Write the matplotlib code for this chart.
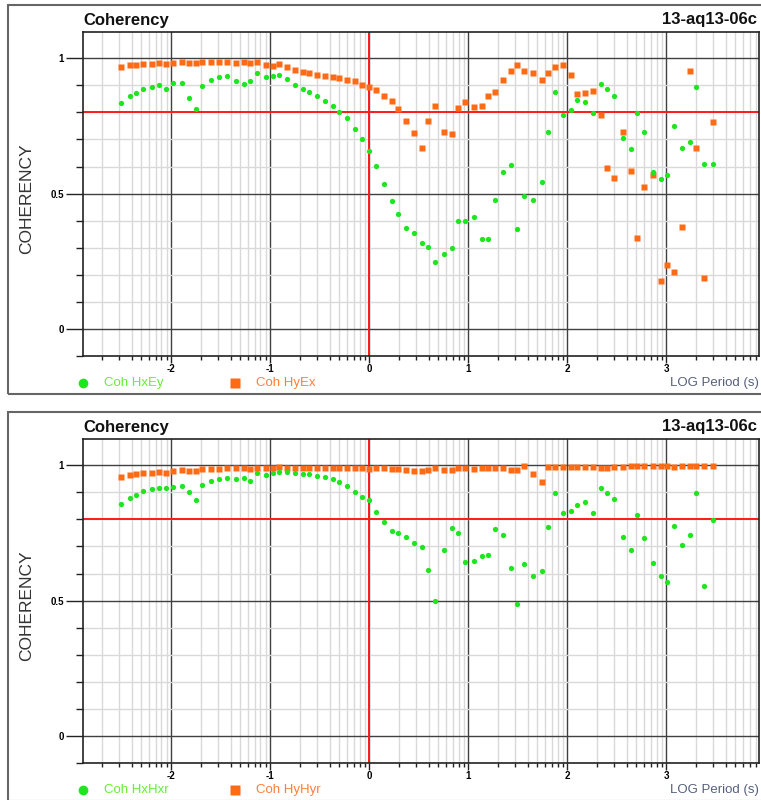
import matplotlib
matplotlib.use('Agg')
import matplotlib.pyplot as plt
import numpy as np
from matplotlib.patches import Rectangle
from matplotlib.lines import Line2D
from matplotlib.ticker import MultipleLocator, FixedLocator

plt.rcParams['font.family'] = ['Liberation Sans', 'DejaVu Sans']

# log10 of period (s), shared by all series
log_period = [
    -2.505, -2.418, -2.354, -2.280, -2.195, -2.118, -2.054, -1.976, -1.892, -1.815,
    -1.747, -1.684, -1.596, -1.515, -1.431, -1.347, -1.266, -1.202, -1.128, -1.044,
    -0.970, -0.906, -0.832, -0.744, -0.667, -0.603, -0.525, -0.444, -0.367, -0.300,
    -0.226, -0.141, -0.067, 0.000, 0.074,
    0.152, 0.232, 0.296, 0.370, 0.455, 0.532, 0.599, 0.670, 0.754, 0.835,
    0.896, 0.970, 1.057, 1.141, 1.202, 1.273, 1.357, 1.431, 1.492, 1.569,
    1.657, 1.741, 1.805, 1.875, 1.956, 2.037, 2.104, 2.178, 2.256, 2.337,
    2.401, 2.471, 2.562, 2.643, 2.704, 2.778, 2.869, 2.943, 3.003, 3.074,
    3.162, 3.242, 3.303, 3.377, 3.468,
]

coh_hxey = [
    0.834, 0.861, 0.871, 0.888, 0.893, 0.903, 0.885, 0.908, 0.908, 0.852,
    0.813, 0.899, 0.920, 0.930, 0.935, 0.917, 0.905, 0.917, 0.945, 0.930,
    0.935, 0.940, 0.924, 0.901, 0.888, 0.874, 0.861, 0.844, 0.824, 0.800,
    0.780, 0.738, 0.701, 0.656, 0.603,
    0.537, 0.473, 0.426, 0.374, 0.353, 0.318, 0.304, 0.249, 0.277, 0.298,
    0.399, 0.397, 0.414, 0.331, 0.334, 0.477, 0.578, 0.605, 0.368, 0.491,
    0.478, 0.542, 0.729, 0.876, 0.792, 0.810, 0.847, 0.837, 0.797, 0.906,
    0.888, 0.860, 0.704, 0.665, 0.797, 0.729, 0.580, 0.555, 0.569, 0.748,
    0.669, 0.692, 0.893, 0.611, 0.611,
]

coh_hyex = [
    0.969, 0.975, 0.975, 0.979, 0.980, 0.982, 0.979, 0.984, 0.985, 0.983,
    0.982, 0.985, 0.985, 0.985, 0.985, 0.984, 0.985, 0.982, 0.985, 0.974,
    0.972, 0.979, 0.969, 0.956, 0.950, 0.945, 0.938, 0.935, 0.931, 0.927,
    0.920, 0.915, 0.900, 0.893, 0.884,
    0.860, 0.844, 0.813, 0.770, 0.724, 0.669, 0.770, 0.824, 0.727, 0.719,
    0.818, 0.839, 0.820, 0.824, 0.861, 0.876, 0.920, 0.952, 0.975, 0.952,
    0.947, 0.920, 0.945, 0.967, 0.974, 0.938, 0.867, 0.872, 0.879, 0.792,
    0.596, 0.559, 0.729, 0.583, 0.336, 0.523, 0.569, 0.176, 0.235, 0.212,
    0.377, 0.953, 0.669, 0.190, 0.764,
]

coh_hxhxr = [
    0.856, 0.878, 0.890, 0.904, 0.911, 0.916, 0.915, 0.921, 0.922, 0.903,
    0.872, 0.926, 0.943, 0.948, 0.953, 0.948, 0.952, 0.943, 0.973, 0.964,
    0.970, 0.977, 0.974, 0.970, 0.969, 0.967, 0.962, 0.958, 0.951, 0.940,
    0.925, 0.903, 0.884, 0.871, 0.829,
    0.789, 0.756, 0.749, 0.734, 0.714, 0.697, 0.613, 0.500, 0.687, 0.770,
    0.751, 0.642, 0.645, 0.665, 0.669, 0.765, 0.741, 0.619, 0.488, 0.635,
    0.591, 0.611, 0.773, 0.898, 0.824, 0.831, 0.852, 0.863, 0.824, 0.915,
    0.898, 0.876, 0.734, 0.687, 0.815, 0.732, 0.638, 0.592, 0.568, 0.775,
    0.707, 0.743, 0.898, 0.555, 0.799,
]

coh_hyhyr = [
    0.957, 0.963, 0.967, 0.972, 0.973, 0.974, 0.972, 0.978, 0.983, 0.980,
    0.980, 0.985, 0.986, 0.988, 0.990, 0.989, 0.990, 0.988, 0.990, 0.990,
    0.990, 0.995, 0.989, 0.991, 0.989, 0.989, 0.991, 0.991, 0.991, 0.991,
    0.991, 0.991, 0.991, 0.988, 0.989,
    0.989, 0.986, 0.986, 0.983, 0.979, 0.979, 0.984, 0.989, 0.984, 0.984,
    0.990, 0.990, 0.986, 0.989, 0.989, 0.991, 0.989, 0.983, 0.983, 0.996,
    0.967, 0.940, 0.993, 0.994, 0.994, 0.995, 0.994, 0.994, 0.994, 0.990,
    0.991, 0.994, 0.994, 0.996, 0.996, 0.996, 0.999, 0.996, 0.999, 0.993,
    0.998, 0.999, 0.999, 0.999, 0.999,
]

panels = [
    (coh_hxey, coh_hyex, 'Coh HxEy', 'Coh HyEx'),
    (coh_hxhxr, coh_hyhyr, 'Coh HxHxr', 'Coh HyHyr'),
]

W, H = 761, 800
GREEN = '#1ee61e'
ORANGE = '#ff6a14'

fig = plt.figure(figsize=(W / 100, H / 100), dpi=100)


def fx(px):
    return px / W


def fy(py):
    return 1 - py / H


def draw_panel(off, green, orange, gname, oname):
    # outer frame (runs off the right edge of the canvas)
    fig.patches.append(Rectangle((fx(8), fy(off + 394)), fx(800), 389 / H,
                                 transform=fig.transFigure, fill=False,
                                 edgecolor='#666666', lw=1.5))

    top, bottom, left, right = off + 32.3, off + 356, 83.3, 759.3
    ax = fig.add_axes([fx(left), fy(bottom), fx(right - left), (bottom - top) / H])
    ax.set_xlim(-2.886, 3.94)
    ax.set_ylim(-0.1, 1.096)

    # grid: log-spaced minor lines inside each decade
    minor_x = [n + np.log10(k) for n in range(-3, 4) for k in range(2, 10)]
    ax.xaxis.set_major_locator(FixedLocator([-2, -1, 0, 1, 2, 3]))
    ax.xaxis.set_minor_locator(FixedLocator(minor_x))
    ax.yaxis.set_major_locator(FixedLocator([0, 0.5, 1]))
    ax.yaxis.set_minor_locator(MultipleLocator(0.1))
    ax.grid(which='minor', color='#d9d9d9', lw=1)
    ax.grid(which='major', color='#404040', lw=1)
    ax.axhline(0.8, color='#ff1a1a', lw=1.4, zorder=2)
    ax.axvline(0, color='#ff1a1a', lw=1.4, zorder=2)
    ax.set_axisbelow(True)

    ax.set_xticklabels(['-2', '-1', '0', '1', '2', '3'])
    ax.set_yticklabels(['0', '0.5', '1'])
    ax.tick_params(axis='y', which='major', length=12, width=1, pad=2,
                   labelsize=7, color='#222222')
    ax.tick_params(axis='y', which='minor', length=5, width=1, color='#222222')
    ax.tick_params(axis='x', which='major', length=5, width=1, pad=1,
                   labelsize=7, color='#222222')
    ax.tick_params(axis='x', which='minor', length=3, width=1, color='#222222')
    for lab in ax.get_xticklabels() + ax.get_yticklabels():
        lab.set_fontweight('bold')
    for s in ax.spines.values():
        s.set_color('#222222')
        s.set_linewidth(1.2)

    ax.plot(log_period, green, 'o', color=GREEN, ms=3.8, mec='none', zorder=4)
    ax.plot(log_period, orange, 's', color=ORANGE, ms=3.8, mec='none', zorder=3)

    # titles and labels
    fig.text(fx(83), fy(off + 25), 'Coherency', fontsize=12, fontweight='bold',
             va='baseline', ha='left', color='#111111')
    fig.text(fx(757), fy(off + 24), '13-aq13-06c', fontsize=12, fontweight='bold',
             va='baseline', ha='right', color='#111111')
    fig.text(fx(27), fy(off + 199), 'COHERENCY', fontsize=12.5, rotation=90,
             va='center', ha='center', color='#333333')

    # legend row
    ly = fy(off + 383)
    fig.lines.append(Line2D([fx(83)], [ly], marker='o', ms=7, color=GREEN,
                            mec='none', transform=fig.transFigure))
    fig.text(fx(104), ly, gname, fontsize=9.5, va='center', ha='left', color='#66ee33')
    fig.lines.append(Line2D([fx(235)], [ly], marker='s', ms=7, color=ORANGE,
                            mec='none', transform=fig.transFigure))
    fig.text(fx(256), ly, oname, fontsize=9.5, va='center', ha='left', color='#ff7f3a')
    fig.text(fx(759), ly, 'LOG Period (s)', fontsize=9.5,
             va='center', ha='right', color='#56607c')


for i, (g, o, gn, on) in enumerate(panels):
    draw_panel(i * 407, g, o, gn, on)

fig.savefig('out.png', dpi=100, facecolor='white')
